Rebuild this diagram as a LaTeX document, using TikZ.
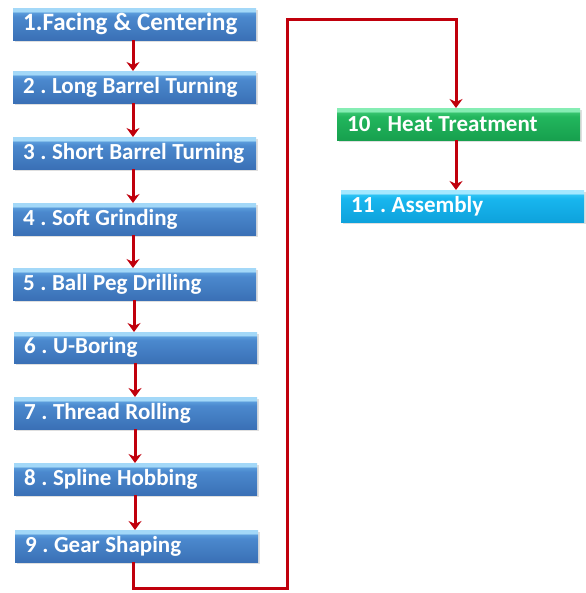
\documentclass[tikz,border=0pt]{standalone}
\usepackage{fontspec}
\setmainfont{Carlito}
\usetikzlibrary{arrows.meta,shadows}
\definecolor{bA}{HTML}{3A70B6}
\definecolor{bB}{HTML}{4B89CE}
\definecolor{bC}{HTML}{5A9CDB}
\definecolor{bD}{HTML}{A3D8F8}
\definecolor{gA}{HTML}{17A04E}
\definecolor{gB}{HTML}{22B65D}
\definecolor{gC}{HTML}{36C46E}
\definecolor{gD}{HTML}{86EDB4}
\definecolor{cA}{HTML}{0EA2DC}
\definecolor{cB}{HTML}{18B6EE}
\definecolor{cC}{HTML}{2EC3F4}
\definecolor{cD}{HTML}{A4E8FF}
\definecolor{arr}{HTML}{C0000C}
\pgfdeclareverticalshading{blueshade}{100bp}{color(0bp)=(bA); color(25bp)=(bA); color(62bp)=(bB); color(68bp)=(bC); color(70bp)=(bD); color(75bp)=(bD); color(100bp)=(bD)}
\pgfdeclareverticalshading{greenshade}{100bp}{color(0bp)=(gA); color(25bp)=(gA); color(62bp)=(gB); color(68bp)=(gC); color(70bp)=(gD); color(75bp)=(gD); color(100bp)=(gD)}
\pgfdeclareverticalshading{cyanshade}{100bp}{color(0bp)=(cA); color(25bp)=(cA); color(62bp)=(cB); color(68bp)=(cC); color(70bp)=(cD); color(75bp)=(cD); color(100bp)=(cD)}
\newcommand{\boxfont}[1]{\fontsize{#1}{#1}\selectfont\bfseries}
\newcommand{\lbl}[1]{\mbox{\frenchspacing\spaceskip=0.24em\relax #1}}
\tikzset{
  stepbox/.style={anchor=north west, minimum width=243pt, minimum height=32pt,
    inner xsep=10pt, inner ysep=0pt, text width=223pt, align=left, text=white,
    font=\boxfont{23}, shading=blueshade,
    drop shadow={opacity=0.25, shadow xshift=1.5pt, shadow yshift=-1.5pt}},
  greenbox/.style={stepbox, shading=greenshade},
  cyanbox/.style={stepbox, shading=cyanshade},
  flow/.style={draw=arr, line width=3pt, -{Stealth[length=9pt,width=13pt]}},
}
\begin{document}
\begin{tikzpicture}[x=1pt,y=-1pt]
\useasboundingbox (0,0) rectangle (585,593);
\node[stepbox, font=\boxfont{25}] (s1) at (13,8) {\lbl{1.Facing \& Centering}};
\node[stepbox] (s2) at (13,71) {\lbl{2 . Long Barrel Turning}};
\node[stepbox] (s3) at (13,137) {\lbl{3 . Short Barrel Turning}};
\node[stepbox] (s4) at (13,203) {\lbl{4 . Soft Grinding}};
\node[stepbox] (s5) at (13,268) {\lbl{5 . Ball Peg Drilling}};
\node[stepbox, minimum height=31pt] (s6) at (14,332) {\lbl{6 . U-Boring}};
\node[stepbox] (s7) at (14,397) {\lbl{7 . Thread Rolling}};
\node[stepbox] (s8) at (14,463) {\lbl{8 . Spline Hobbing}};
\node[stepbox] (s9) at (15,530) {\lbl{9 . Gear Shaping}};
\node[greenbox] (s10) at (337,108) {\lbl{10 . Heat Treatment}};
\node[cyanbox] (s11) at (341,190) {\lbl{11 . Assembly}};
\coordinate (c1) at (133,588);
\coordinate (c2) at (287,588);
\coordinate (c3) at (287,20);
\coordinate (c4) at (456,20);
\draw[flow] (s1.south -| 133,0) -- (s2.north -| 133,0);
\draw[flow] (s2.south -| 133,0) -- (s3.north -| 133,0);
\draw[flow] (s3.south -| 133,0) -- (s4.north -| 133,0);
\draw[flow] (s4.south -| 133,0) -- (s5.north -| 133,0);
\draw[flow] (s5.south -| 134,0) -- (s6.north -| 134,0);
\draw[flow] (s6.south -| 135,0) -- (s7.north -| 135,0);
\draw[flow] (s7.south -| 135,0) -- (s8.north -| 135,0);
\draw[flow] (s8.south -| 135,0) -- (s9.north -| 135,0);
\draw[flow] (s9.south -| c1) -- (c1) -- (c2) -- (c3) -- (c4) -- (s10.north -| c4);
\draw[flow] (s10.south -| c4) -- (s11.north -| c4);
\end{tikzpicture}
\end{document}
